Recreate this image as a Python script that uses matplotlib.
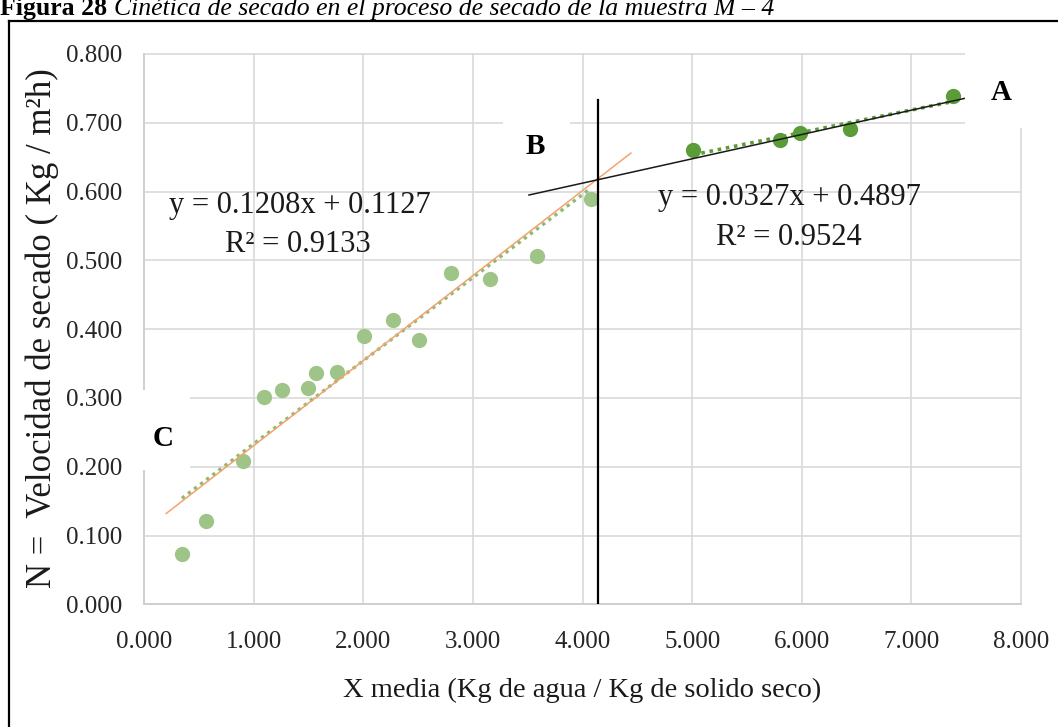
import matplotlib
matplotlib.use("Agg")
import matplotlib.pyplot as plt
from matplotlib.patches import Rectangle
from matplotlib.lines import Line2D

# ---------------- data ----------------
x_light = [0.343, 0.562, 0.905, 1.096, 1.254, 1.494, 1.563, 1.755, 2.007,
           2.271, 2.508, 2.802, 3.154, 3.585, 4.077]
y_light = [0.073, 0.121, 0.208, 0.301, 0.311, 0.315, 0.336, 0.338, 0.390,
           0.413, 0.384, 0.482, 0.473, 0.506, 0.589]
x_dark = [5.009, 5.797, 5.979, 6.438, 7.377]
y_dark = [0.660, 0.675, 0.685, 0.691, 0.739]

fit_light = (0.1208, 0.1127)   # slope, intercept
fit_dark = (0.0327, 0.4897)

orange_x = [0.20, 4.44]
orange_y = [0.132, 0.656]
black_x = [3.51, 7.50]
black_y = [0.595, 0.736]
vline_x = [4.138, 4.138]
vline_y = [0.0, 0.733]

xticks = [0, 1, 2, 3, 4, 5, 6, 7, 8]
yticks = [0.0, 0.1, 0.2, 0.3, 0.4, 0.5, 0.6, 0.7, 0.8]
xtick_labels = ["0.000", "1.000", "2.000", "3.000", "4.000", "5.000", "6.000", "7.000", "8.000"]
ytick_labels = ["0.000", "0.100", "0.200", "0.300", "0.400", "0.500", "0.600", "0.700", "0.800"]

eq_light = "y = 0.1208x + 0.1127"
r2_light = "R² = 0.9133"
eq_dark = "y = 0.0327x + 0.4897"
r2_dark = "R² = 0.9524"

# ---------------- style ----------------
W, H = 1058, 727
plt.rcParams['font.family'] = ['Liberation Serif', 'DejaVu Serif']

def fx(px):
    return px / W

def fy(py):
    return 1 - py / H

fig = plt.figure(figsize=(W / 100, H / 100), dpi=100)
fig.patch.set_facecolor('white')

L, R, T, B = 144.3, 1021.0, 54.0, 604.3
ax = fig.add_axes([fx(L), fy(B), fx(R - L), (B - T) / H])
ax.set_xlim(0, 8)
ax.set_ylim(0, 0.8)
ax.set_xticks(xticks)
ax.set_xticklabels(xtick_labels)
ax.set_yticks(yticks)
ax.set_yticklabels(ytick_labels)
ax.set_axisbelow(True)
ax.grid(True, color='#d9d9d9', lw=1.2, clip_on=False)
for s in ['top', 'right']:
    ax.spines[s].set_visible(False)
for s in ['left', 'bottom']:
    ax.spines[s].set_color('#cfcfcf')
    ax.spines[s].set_linewidth(1.3)
ax.tick_params(axis='x', length=0, labelsize=18, pad=19, colors='#262626')
ax.tick_params(axis='y', length=0, labelsize=18, pad=16, colors='#262626')

light_c = '#9ec587'
light_dot = '#8dbb72'
dark_c = '#5b9b38'

# trendlines (dotted)
xl = [min(x_light), max(x_light)]
ax.plot(xl, [fit_light[0] * v + fit_light[1] for v in xl], color=light_dot,
        lw=2.4, ls=(0, (1, 1.3)), zorder=2)
xd = [min(x_dark), max(x_dark)]
ax.plot(xd, [fit_dark[0] * v + fit_dark[1] for v in xd], color=dark_c,
        lw=2.6, ls=(0, (1, 1.3)), zorder=2)

# points
ax.plot(x_light, y_light, 'o', ms=11, color=light_c, mec='none', zorder=3)
ax.plot(x_dark, y_dark, 'o', ms=11, color=dark_c, mec='none', zorder=3)

# manual lines
ax.plot(orange_x, orange_y, color='#f2a36e', lw=1.1, zorder=4)
ax.plot(black_x, black_y, color='#1a1a1a', lw=1.1, zorder=5)
ax.plot(vline_x, vline_y, color='black', lw=1.6, zorder=5)

# equations
ax.text(fx(300), fy(205), eq_light, transform=fig.transFigure, ha='center',
        va='center', fontsize=22, color='#1a1a1a', zorder=6)
ax.text(fx(298), fy(245), r2_light, transform=fig.transFigure, ha='center',
        va='center', fontsize=22, color='#1a1a1a', zorder=6)
ax.text(fx(789), fy(198), eq_dark, transform=fig.transFigure, ha='center',
        va='center', fontsize=22, color='#1a1a1a', zorder=6)
ax.text(fx(789), fy(238), r2_dark, transform=fig.transFigure, ha='center',
        va='center', fontsize=22, color='#1a1a1a', zorder=6)

# axis titles
fig.text(fx(582), fy(690), "X media (Kg de agua / Kg de solido seco)",
         ha='center', va='center', fontsize=20.5, color='#1a1a1a')
fig.text(fx(42), fy(328), "N =  Velocidad de secado ( Kg / m²h)",
         ha='center', va='center', rotation=90, fontsize=25, color='#1a1a1a')

# white label boxes and letters
boxes = [(965, 38, 1058, 128), (503, 95, 570, 178), (138, 390, 190, 470)]
for (x0, y0, x1, y1) in boxes:
    fig.patches.append(Rectangle((fx(x0), fy(y1)), fx(x1 - x0), (y1 - y0) / H,
                                 transform=fig.transFigure, facecolor='white',
                                 edgecolor='none', zorder=2))
for (px, py, s) in [(1001, 92, 'A'), (535, 147, 'B'), (163, 439, 'C')]:
    fig.text(fx(px), fy(py), s, ha='center', va='center', fontsize=21,
             fontweight='bold', color='black', zorder=3)

# outer border
fig.add_artist(Line2D([fx(9), fx(9)], [fy(21), -0.05], color='black', lw=1.6,
                      transform=fig.transFigure))
fig.add_artist(Line2D([fx(9), 1.05], [fy(21), fy(21)], color='black', lw=1.6,
                      transform=fig.transFigure))

# caption (cut off at top, as in the reference)
t1 = fig.text(fx(0), fy(15), "Figura 28 ", ha='left', va='baseline', fontsize=18.5,
              fontweight='bold', color='black')
fig.canvas.draw()
bb = t1.get_window_extent()
fig.text(bb.x1 / W, fy(15), "Cinética de secado en el proceso de secado de la muestra M – 4",
         ha='left', va='baseline', fontsize=18.5, style='italic', color='black')

fig.savefig('out.png', dpi=100)
